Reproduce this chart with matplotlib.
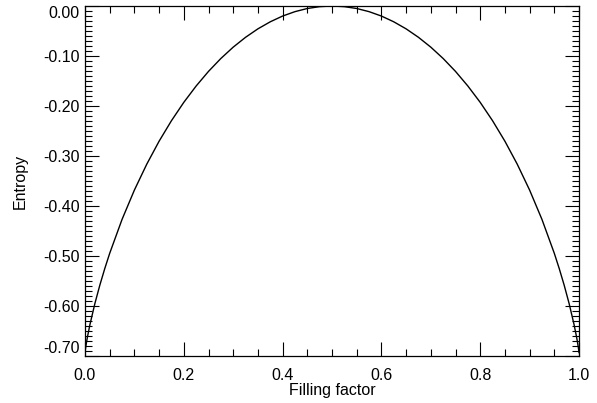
import matplotlib
matplotlib.use("Agg")
import matplotlib.pyplot as plt
from matplotlib.ticker import MultipleLocator, FormatStrFormatter

plt.rcParams['font.family'] = ['Liberation Sans', 'DejaVu Sans']

# filling factor vs entropy
filling = [0.0, 0.001, 0.003, 0.005, 0.01, 0.02, 0.03, 0.04, 0.05, 0.075,
           0.1, 0.125, 0.15, 0.175, 0.2, 0.225, 0.25, 0.275, 0.3, 0.325,
           0.35, 0.375, 0.4, 0.425, 0.45, 0.475, 0.5,
           0.525, 0.55, 0.575, 0.6, 0.625, 0.65, 0.675, 0.7, 0.725,
           0.75, 0.775, 0.8, 0.825, 0.85, 0.875, 0.9, 0.925, 0.95,
           0.96, 0.97, 0.98, 0.99, 0.995, 0.997, 0.999, 1.0]
entropy = [-0.6931, -0.6852, -0.6727, -0.6617, -0.6371, -0.5951, -0.5584, -0.5252, -0.4946, -0.4268,
           -0.3681, -0.3164, -0.2704, -0.2294, -0.1927, -0.1600, -0.1308, -0.1050, -0.0823, -0.0626,
           -0.0457, -0.0316, -0.0201, -0.0113, -0.0050, -0.0013, 0.0,
           -0.0013, -0.0050, -0.0113, -0.0201, -0.0316, -0.0457, -0.0626, -0.0823, -0.1050,
           -0.1308, -0.1600, -0.1927, -0.2294, -0.2704, -0.3164, -0.3681, -0.4268, -0.4946,
           -0.5252, -0.5584, -0.5951, -0.6371, -0.6617, -0.6727, -0.6852, -0.6931]

fig = plt.figure(figsize=(5.97, 4.03), dpi=100)
ax = fig.add_axes([85/597, 47/403, 494/597, 350/403])

ax.plot(filling, entropy, color='black', lw=1.0)

ax.set_xlim(0, 1)
ax.set_ylim(-0.70, 0.0)

ax.xaxis.set_major_locator(MultipleLocator(0.2))
ax.xaxis.set_minor_locator(MultipleLocator(0.05))
ax.yaxis.set_major_locator(MultipleLocator(0.1))
ax.yaxis.set_minor_locator(MultipleLocator(0.01))
ax.xaxis.set_major_formatter(FormatStrFormatter('%.1f'))
ax.yaxis.set_major_formatter(FormatStrFormatter('%.2f'))

# ticks inside on all four sides
ax.tick_params(which='both', direction='in', top=True, right=True,
               color='black', width=0.8, labelsize=11.5)
ax.tick_params(which='major', length=10)
ax.tick_params(which='minor', length=5)
ax.tick_params(axis='y', pad=4)
ax.tick_params(axis='x', pad=9)

for sp in ax.spines.values():
    sp.set_linewidth(0.9)
    sp.set_color('black')

ax.set_xlabel('Filling factor', fontsize=11.5, labelpad=0)
ax.set_ylabel('Entropy', fontsize=11.5, labelpad=11)

fig.canvas.draw()
# end labels pulled inside the frame
for lab in ax.get_yticklabels():
    y = lab.get_position()[1]
    if abs(y) < 1e-6:
        lab.set_va('top')
    elif abs(y + 0.70) < 1e-6:
        lab.set_va('bottom')

fig.savefig('out.png', dpi=100)
